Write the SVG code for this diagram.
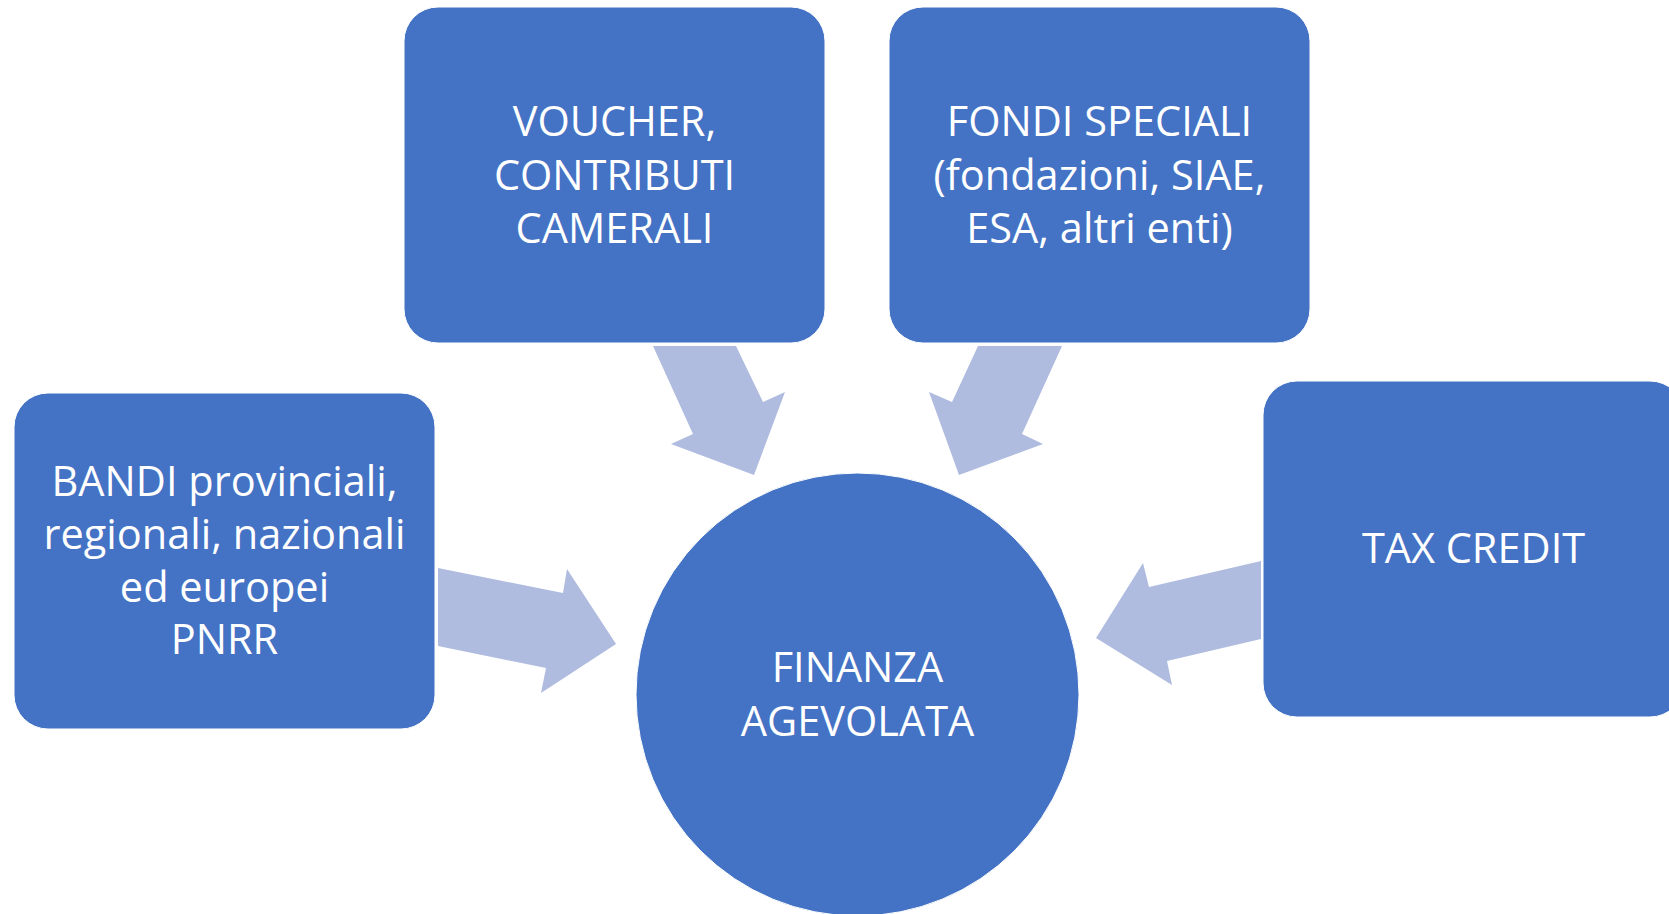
<svg xmlns="http://www.w3.org/2000/svg" width="1669" height="914" viewBox="0 0 1669 914">
<style>
.box{fill:#4472C4;stroke:#FFFFFF;stroke-width:1}
.arrow{fill:#AFBCDF}
.lbl{font-family:"Open Sans","Liberation Sans",sans-serif;font-size:41.5px;fill:#FFFFFF;text-anchor:middle}
</style>
<rect width="1669" height="914" fill="#FFFFFF"/>
<g id="connectors">
<polygon class="arrow" points="653,346 736,346 763,402 785,392 754,475 671,444 693,434"/>
<polygon class="arrow" points="1062,346 978,346 952,402 929,392 959,475 1043,444 1022,434"/>
<polygon class="arrow" points="438,568 563,593 567,569 616,644 541,693 546,668 438,646"/>
<polygon class="arrow" points="1261,561 1149,587 1143,563 1096,638 1172,685 1167,661 1261,639"/>
</g>
<g id="node-voucher">
<rect class="box" x="404" y="7" width="421" height="336" rx="34"/>
<text class="lbl"><tspan x="614.5" y="136">VOUCHER,</tspan><tspan x="614.5" y="190">CONTRIBUTI</tspan><tspan x="614.5" y="243">CAMERALI</tspan></text>
</g>
<g id="node-fondi">
<rect class="box" x="889" y="7" width="421" height="336" rx="34"/>
<text class="lbl"><tspan x="1099.5" y="136">FONDI SPECIALI</tspan><tspan x="1099.5" y="190">(fondazioni, SIAE,</tspan><tspan x="1099.5" y="243">ESA, altri enti)</tspan></text>
</g>
<g id="node-bandi">
<rect class="box" x="14" y="393" width="421" height="336" rx="34"/>
<text class="lbl"><tspan x="224.5" y="496">BANDI provinciali,</tspan><tspan x="224.5" y="549">regionali, nazionali</tspan><tspan x="224.5" y="602">ed europei</tspan><tspan x="224.5" y="654">PNRR</tspan></text>
</g>
<g id="node-tax">
<rect class="box" x="1263" y="381" width="421" height="336" rx="34"/>
<text class="lbl"><tspan x="1473.5" y="563">TAX CREDIT</tspan></text>
</g>
<g id="node-finanza">
<circle class="box" cx="857.5" cy="694.5" r="221.5"/>
<text class="lbl"><tspan x="857.5" y="682">FINANZA</tspan><tspan x="857.5" y="736">AGEVOLATA</tspan></text>
</g>
</svg>
